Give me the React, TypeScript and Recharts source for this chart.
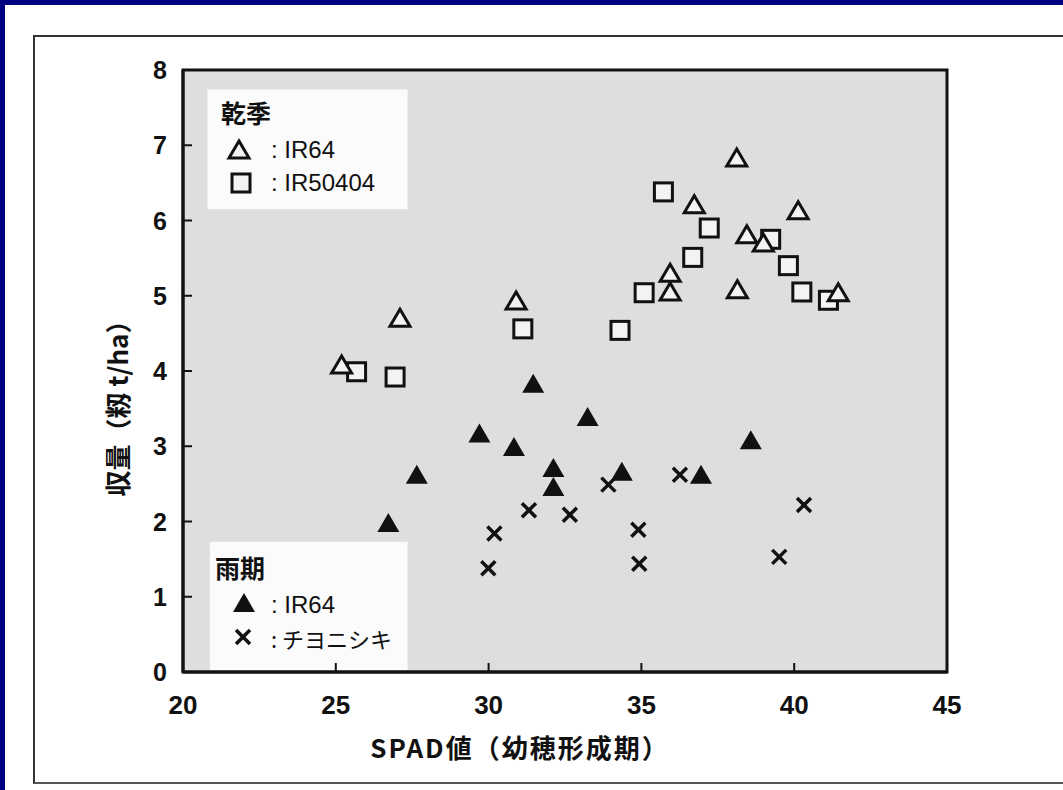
import { ScatterChart, Scatter, XAxis, YAxis, CartesianGrid, ReferenceArea } from 'recharts';

// axis ticks
const xTicks = [20, 25, 30, 35, 40, 45];
const yTicks = [0, 1, 2, 3, 4, 5, 6, 7, 8];

// 乾季 IR64 (open triangles)
const dryIR64X = [25.19, 27.1, 30.9, 35.94, 35.94, 36.73, 38.12, 38.45, 38.14, 38.99, 40.13, 41.44];
const dryIR64Y = [4.08, 4.7, 4.93, 5.3, 5.05, 6.21, 6.83, 5.81, 5.08, 5.7, 6.13, 5.04];

// 乾季 IR50404 (open squares)
const dryIR50404X = [25.68, 26.94, 31.12, 34.3, 35.09, 35.72, 36.68, 37.22, 39.23, 39.81, 40.25, 41.12];
const dryIR50404Y = [3.99, 3.92, 4.56, 4.54, 5.04, 6.38, 5.51, 5.9, 5.75, 5.4, 5.05, 4.94];

// 雨期 IR64 (filled triangles)
const wetIR64X = [26.72, 27.65, 29.7, 30.83, 31.46, 32.12, 32.12, 33.24, 34.36, 36.95, 38.58];
const wetIR64Y = [1.98, 2.62, 3.17, 2.99, 3.83, 2.71, 2.46, 3.39, 2.66, 2.62, 3.08];

// 雨期 チヨニシキ (crosses)
const wetChiyoX = [29.99, 30.19, 31.32, 32.66, 33.92, 34.9, 34.93, 36.26, 39.51, 40.32];
const wetChiyoY = [1.38, 1.84, 2.15, 2.09, 2.49, 1.89, 1.44, 2.62, 1.53, 2.22];

const toPoints = (xs: number[], ys: number[]) => xs.map((x, i) => ({ x, y: ys[i] }));

const INK = '#111';
const FONT = "'Liberation Sans', Arial, 'Noto Sans CJK JP', sans-serif";
const CJK = "'Noto Sans CJK JP', 'Liberation Sans', sans-serif";
const X_MARGIN = 24;
const Y_MARGIN = 16;

const OpenTriangle = ({ cx, cy }: any) => (
  <polygon
    points={`${cx},${cy - 9} ${cx - 10},${cy + 8} ${cx + 10},${cy + 8}`}
    fill="#f3f3f3"
    stroke={INK}
    strokeWidth={3}
  />
);

const OpenSquare = ({ cx, cy }: any) => (
  <rect x={cx - 9} y={cy - 9} width={18} height={18} fill="#f3f3f3" stroke={INK} strokeWidth={3} />
);

const FilledTriangle = ({ cx, cy }: any) => (
  <polygon points={`${cx},${cy - 10} ${cx - 11},${cy + 9} ${cx + 11},${cy + 9}`} fill={INK} />
);

const Cross = ({ cx, cy }: any) => (
  <g stroke={INK} strokeWidth={3.5}>
    <line x1={cx - 7} y1={cy - 7} x2={cx + 7} y2={cy + 7} />
    <line x1={cx - 7} y1={cy + 7} x2={cx + 7} y2={cy - 7} />
  </g>
);

// inward tick marks + labels
const XTick = ({ x, y, payload }: any) => {
  const axisY = y - X_MARGIN;
  return (
    <g>
      <line x1={x} y1={axisY} x2={x} y2={axisY - 9} stroke={INK} strokeWidth={2} />
      <text x={x} y={y} dy="0.71em" textAnchor="middle" fill={INK} fontSize={26} fontWeight={700} fontFamily={FONT}>
        {payload.value}
      </text>
    </g>
  );
};

const YTick = ({ x, y, payload }: any) => {
  const axisX = x + Y_MARGIN;
  return (
    <g>
      <line x1={axisX} y1={y} x2={axisX + 9} y2={y} stroke={INK} strokeWidth={2} />
      <text x={x} y={y} dy="0.36em" textAnchor="end" fill={INK} fontSize={25} fontWeight={700} fontFamily={FONT}>
        {payload.value}
      </text>
    </g>
  );
};

const XLabel = () => (
  <text x={520} y={746} textAnchor="middle" dominantBaseline="central" fontFamily={CJK} fontWeight={700} fontSize={26} fill={INK} letterSpacing={2}>
    SPAD値（幼穂形成期）
  </text>
);

const YLabel = () => (
  <text
    x={116}
    y={402}
    transform="rotate(-90 116 402)"
    textAnchor="middle"
    dominantBaseline="central"
    fontFamily={CJK}
    fontWeight={700}
    fontSize={26}
    fill={INK}
  >
    収量（籾 t/ha）
  </text>
);

const legendText: React.CSSProperties = {
  position: 'absolute',
  fontFamily: FONT,
  fontSize: 24,
  color: INK,
  lineHeight: '24px',
  whiteSpace: 'nowrap',
};

function Sym({ kind, x, y }: { kind: string; x: number; y: number }) {
  return (
    <svg style={{ position: 'absolute', left: x - 14, top: y - 14 }} width={28} height={28}>
      {kind === 'tri' && <OpenTriangle cx={14} cy={14} />}
      {kind === 'sq' && <OpenSquare cx={14} cy={14} />}
      {kind === 'ftri' && <FilledTriangle cx={14} cy={14} />}
      {kind === 'x' && <Cross cx={14} cy={14} />}
    </svg>
  );
}

export default function App() {
  return (
    <div style={{ position: 'absolute', left: 0, top: 0, width: 1063, height: 790, background: '#000080', overflow: 'hidden' }}>
      <div style={{ position: 'absolute', left: 5, top: 5, width: 1058, height: 785, background: '#fff' }} />
      <div
        style={{
          position: 'absolute',
          left: 33,
          top: 35,
          width: 1040,
          height: 745,
          borderTop: '2px solid #333',
          borderLeft: '2px solid #333',
          borderBottom: '2px solid #555',
        }}
      />
      <div style={{ position: 'absolute', left: 0, top: 0 }}>
        <ScatterChart width={1063} height={790} margin={{ top: 70, right: 116, bottom: 28, left: 123 }}>
          <CartesianGrid fill="#dedede" horizontal={false} vertical={false} />
          <ReferenceArea x1={20.8} x2={27.35} y1={6.15} y2={7.74} fill="#fbfbfb" fillOpacity={1} stroke="none" />
          <ReferenceArea x1={20.88} x2={27.35} y1={0} y2={1.73} fill="#fbfbfb" fillOpacity={1} stroke="none" />
          <ReferenceArea x1={20} x2={45} y1={0} y2={8} fill="none" fillOpacity={0} stroke={INK} strokeWidth={3} />
          <XAxis
            type="number"
            dataKey="x"
            domain={[20, 45]}
            ticks={xTicks}
            allowDataOverflow
            height={90}
            axisLine={{ stroke: INK, strokeWidth: 3 }}
            tickLine={false}
            tickSize={0}
            tickMargin={X_MARGIN}
            tick={<XTick />}
            label={<XLabel />}
          />
          <YAxis
            type="number"
            dataKey="y"
            domain={[0, 8]}
            ticks={yTicks}
            allowDataOverflow
            width={60}
            axisLine={{ stroke: INK, strokeWidth: 3 }}
            tickLine={false}
            tickSize={0}
            tickMargin={Y_MARGIN}
            tick={<YTick />}
            label={<YLabel />}
          />
          <Scatter data={toPoints(dryIR50404X, dryIR50404Y)} shape={OpenSquare} isAnimationActive={false} />
          <Scatter data={toPoints(dryIR64X, dryIR64Y)} shape={OpenTriangle} isAnimationActive={false} />
          <Scatter data={toPoints(wetIR64X, wetIR64Y)} shape={FilledTriangle} isAnimationActive={false} />
          <Scatter data={toPoints(wetChiyoX, wetChiyoY)} shape={Cross} isAnimationActive={false} />
        </ScatterChart>
      </div>

      {/* 乾季 legend */}
      <div style={{ ...legendText, left: 221, top: 100, fontFamily: CJK, fontWeight: 700, fontSize: 25 }}>乾季</div>
      <Sym kind="tri" x={239} y={150} />
      <div style={{ ...legendText, left: 271, top: 138 }}>: IR64</div>
      <Sym kind="sq" x={241} y={183} />
      <div style={{ ...legendText, left: 271, top: 171 }}>: IR50404</div>

      {/* 雨期 legend */}
      <div style={{ ...legendText, left: 215, top: 555, fontFamily: CJK, fontWeight: 700, fontSize: 25 }}>雨期</div>
      <Sym kind="ftri" x={244} y={603} />
      <div style={{ ...legendText, left: 271, top: 593 }}>: IR64</div>
      <Sym kind="x" x={243} y={637} />
      <div style={{ ...legendText, left: 271, top: 626, fontFamily: CJK, fontSize: 22 }}>: チヨニシキ</div>
    </div>
  );
}
